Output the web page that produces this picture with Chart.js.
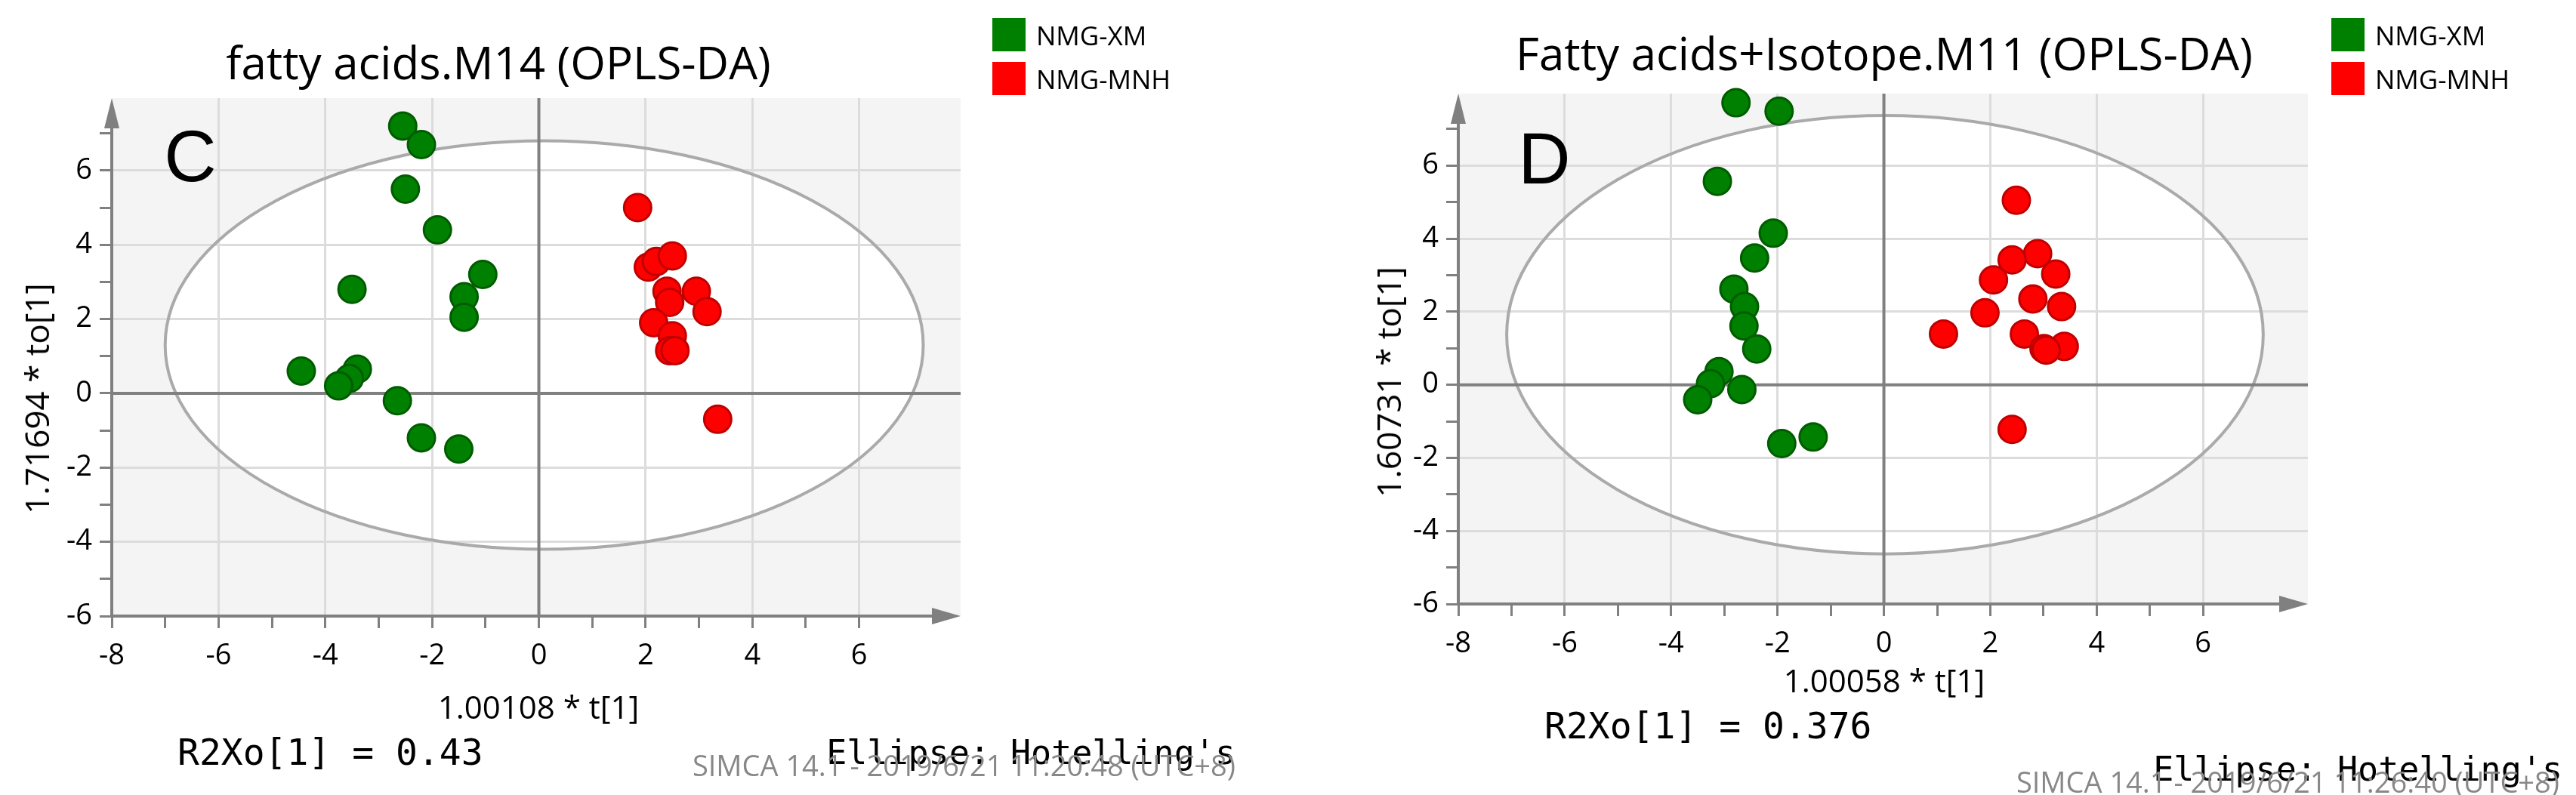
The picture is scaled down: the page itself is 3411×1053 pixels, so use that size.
<!DOCTYPE html>
<html><head><meta charset="utf-8">
<script src="https://cdn.jsdelivr.net/npm/chart.js@4.4.0/dist/chart.umd.min.js"></script>
<style>
body{margin:0;width:3411px;height:1053px;background:#fff;position:relative;overflow:hidden;font-family:"Open Sans",sans-serif}
canvas{position:absolute;top:0}
.t{position:absolute;white-space:nowrap;color:#000}
.mono{font-family:"DejaVu Sans Mono",monospace}
.sq{position:absolute;width:44px;height:44px}
</style></head><body>
<canvas id="c1" style="left:0"></canvas>
<canvas id="c2" style="left:1705px"></canvas>

<div class="t" style="left:660px;top:82px;transform:translate(-50%,-50%);font-size:60px">fatty acids.M14 (OPLS-DA)</div>
<div class="sq" style="left:1314px;top:24px;background:#008000"></div>
<div class="t" style="left:1372px;top:46px;transform:translateY(-50%);font-size:35px">NMG-XM</div>
<div class="sq" style="left:1314px;top:82px;background:#ff0000"></div>
<div class="t" style="left:1372px;top:104px;transform:translateY(-50%);font-size:35px">NMG-MNH</div>
<div class="t" style="left:252px;top:207px;transform:translate(-50%,-50%);font-size:96px;font-family:'Liberation Sans'">C</div>
<div class="t" style="left:48px;top:528px;transform:translate(-50%,-50%) rotate(-90deg);font-size:44px">1.71694 * to[1]</div>
<div class="t" style="left:713px;top:935px;transform:translate(-50%,-50%);font-size:42px">1.00108 * t[1]</div>
<div class="t mono" style="left:235px;top:996px;transform:translateY(-50%);font-size:48px">R2Xo[1] = 0.43</div>
<div class="t mono" style="right:1775px;top:996px;transform:translateY(-50%);font-size:45px">Ellipse: Hotelling's</div>
<div class="t" style="right:1775px;top:1013px;transform:translateY(-50%);font-size:38px;color:#888">SIMCA 14.1 - 2019/6/21 11:20:48 (UTC+8)</div>

<div class="t" style="left:2495px;top:70px;transform:translate(-50%,-50%);font-size:60px">Fatty acids+Isotope.M11 (OPLS-DA)</div>
<div class="sq" style="left:3087px;top:24px;background:#008000"></div>
<div class="t" style="left:3145px;top:46px;transform:translateY(-50%);font-size:35px">NMG-XM</div>
<div class="sq" style="left:3087px;top:82px;background:#ff0000"></div>
<div class="t" style="left:3145px;top:104px;transform:translateY(-50%);font-size:35px">NMG-MNH</div>
<div class="t" style="left:2045px;top:210px;transform:translate(-50%,-50%);font-size:96px;font-family:'Liberation Sans'">D</div>
<div class="t" style="left:1838px;top:506px;transform:translate(-50%,-50%) rotate(-90deg);font-size:44px">1.60731 * to[1]</div>
<div class="t" style="left:2495px;top:900px;transform:translate(-50%,-50%);font-size:42px">1.00058 * t[1]</div>
<div class="t mono" style="left:2045px;top:961px;transform:translateY(-50%);font-size:48px">R2Xo[1] = 0.376</div>
<div class="t mono" style="right:18px;top:1018px;transform:translateY(-50%);font-size:45px">Ellipse: Hotelling's</div>
<div class="t" style="right:22px;top:1035px;transform:translateY(-50%);font-size:38px;color:#888">SIMCA 14.1 - 2019/6/21 11:26:40 (UTC+8)</div>

<script>
// ---- data ----
const xmC_x = [-2.55,-2.2,-2.5,-1.9,-1.05,-1.4,-1.4,-3.5,-4.45,-3.4,-3.55,-3.75,-2.65,-2.2,-1.5];
const xmC_y = [7.2,6.7,5.5,4.4,3.2,2.6,2.05,2.8,0.6,0.65,0.4,0.2,-0.2,-1.2,-1.5];
const mnhC_x = [1.85,2.05,2.2,2.5,2.4,2.95,2.45,3.15,2.15,2.5,2.45,2.55,3.35];
const mnhC_y = [5.0,3.4,3.55,3.7,2.75,2.75,2.45,2.2,1.9,1.55,1.15,1.15,-0.7];
const xmD_x = [-2.78,-1.97,-3.13,-2.08,-2.43,-2.82,-2.62,-2.63,-2.39,-3.1,-3.26,-2.67,-3.5,-1.92,-1.33];
const xmD_y = [7.72,7.49,5.57,4.15,3.47,2.62,2.14,1.61,0.98,0.36,0.03,-0.13,-0.41,-1.61,-1.43];
const mnhD_x = [2.49,2.89,2.41,3.23,2.06,2.8,3.34,1.9,1.12,2.64,3.01,3.39,2.41,3.05];
const mnhD_y = [5.05,3.59,3.42,3.03,2.87,2.35,2.14,1.97,1.39,1.39,0.99,1.05,-1.22,0.95];
// ellipse: centre x, centre y, semi-axis x, semi-axis y
const ellipseC = [0.1, 1.3, 7.1, 5.5];
const ellipseD = [0.02, 1.37, 7.11, 6.0];
const xRangeC = [-8, 7.9], yRangeC = [-6, 7.95];
const xRangeD = [-8, 7.97], yRangeD = [-6, 7.97];

function pts(xs, ys){ return xs.map((x,i)=>({x, y: ys[i]})); }

function make(id, W, area, xm, mnh, ell, xr, yr){
  const cv = document.getElementById(id);
  cv.width = W; cv.height = 1053; cv.style.width = W+'px'; cv.style.height='1053px';
  function ellPx(ch){
    const xs = ch.scales.x, ys = ch.scales.y;
    const cx = xs.getPixelForValue(ell[0]), cy = ys.getPixelForValue(ell[1]);
    const rx = Math.abs(xs.getPixelForValue(ell[0]+ell[2]) - cx), ry = Math.abs(ys.getPixelForValue(ell[1]+ell[3]) - cy);
    return [cx, cy, rx, ry];
  }
  const bg = {
    id:'bg',
    beforeDraw(ch){
      const c = ch.ctx, a = ch.chartArea;
      c.save();
      c.fillStyle = '#f4f4f4'; c.fillRect(a.left, a.top, a.right-a.left, a.bottom-a.top);
      c.beginPath(); c.rect(a.left, a.top, a.right-a.left, a.bottom-a.top); c.clip();
      const e = ellPx(ch);
      c.beginPath(); c.ellipse(e[0], e[1], e[2], e[3], 0, 0, 2*Math.PI);
      c.fillStyle = '#fff'; c.fill();
      c.restore();
    },
    beforeDatasetsDraw(ch){
      const c = ch.ctx, a = ch.chartArea, xs = ch.scales.x, ys = ch.scales.y;
      c.save();
      const e = ellPx(ch);
      c.beginPath(); c.ellipse(e[0], e[1], e[2], e[3], 0, 0, 2*Math.PI);
      c.strokeStyle = '#aaa'; c.lineWidth = 4; c.stroke();
      c.strokeStyle = '#808080'; c.lineWidth = 4;
      const x0 = xs.getPixelForValue(0), y0 = ys.getPixelForValue(0);
      c.beginPath(); c.moveTo(x0, a.top); c.lineTo(x0, a.bottom); c.stroke();
      c.beginPath(); c.moveTo(a.left, y0); c.lineTo(a.right, y0); c.stroke();
      c.beginPath(); c.moveTo(a.left, a.bottom); c.lineTo(a.right-30, a.bottom); c.stroke();
      c.beginPath(); c.moveTo(a.left, a.bottom); c.lineTo(a.left, a.top+30); c.stroke();
      c.fillStyle = '#808080';
      c.beginPath(); c.moveTo(a.right, a.bottom); c.lineTo(a.right-38, a.bottom-11); c.lineTo(a.right-38, a.bottom+11); c.closePath(); c.fill();
      c.beginPath(); c.moveTo(a.left, a.top); c.lineTo(a.left-10, a.top+40); c.lineTo(a.left+10, a.top+40); c.closePath(); c.fill();
      c.restore();
    }
  };
  const even = v => Number.isInteger(v) && Math.abs(v) % 2 === 0;
  const gridCol = (lo) => c => (c.tick && even(c.tick.value) && c.tick.value!==0 && c.tick.value!==lo) ? '#dcdcdc' : 'rgba(0,0,0,0)';
  const intOnly = s => { s.ticks = s.ticks.filter(t => Number.isInteger(t.value)); };
  new Chart(cv, {
    type:'scatter',
    data:{datasets:[
      {data: pts(xm[0], xm[1]), backgroundColor:'#008000', borderColor:'#005c00', borderWidth:3, pointRadius:18},
      {data: pts(mnh[0], mnh[1]), backgroundColor:'#ff0000', borderColor:'#c00000', borderWidth:3, pointRadius:18}
    ]},
    options:{
      responsive:false, animation:false, devicePixelRatio:1,
      layout:{padding:{left:0, top:area.top, right:W-area.right, bottom:0}},
      plugins:{legend:{display:false}, tooltip:{enabled:false}},
      clip:false,
      scales:{
        x:{type:'linear', min:xr[0], max:xr[1],
          afterBuildTicks:intOnly,
          ticks:{stepSize:1, font:{size:38, family:'Open Sans'}, color:'#000', padding:14, maxRotation:0, autoSkip:false,
            callback:v=> even(v) ? v : ''},
          grid:{color:gridCol(xr[0]), lineWidth:3, tickColor:'#808080', tickLength:16},
          border:{display:false},
          afterFit(s){ s.height = 1053 - area.bottom; }
        },
        y:{type:'linear', min:yr[0], max:yr[1],
          afterBuildTicks:intOnly,
          ticks:{stepSize:1, font:{size:38, family:'Open Sans'}, color:'#000', padding:10, autoSkip:false,
            callback:v=> even(v) ? v : ''},
          grid:{color:gridCol(yr[0]), lineWidth:3, tickColor:'#808080', tickLength:16},
          border:{display:false},
          afterFit(s){ s.width = area.left; }
        }
      }
    },
    plugins:[bg]
  });
}
make('c1', 1705, {left:148, right:1272, top:130, bottom:816}, [xmC_x, xmC_y], [mnhC_x, mnhC_y], ellipseC, xRangeC, yRangeC);
make('c2', 1706, {left:226, right:1351, top:124, bottom:800}, [xmD_x, xmD_y], [mnhD_x, mnhD_y], ellipseD, xRangeD, yRangeD);
</script>
</body></html>
